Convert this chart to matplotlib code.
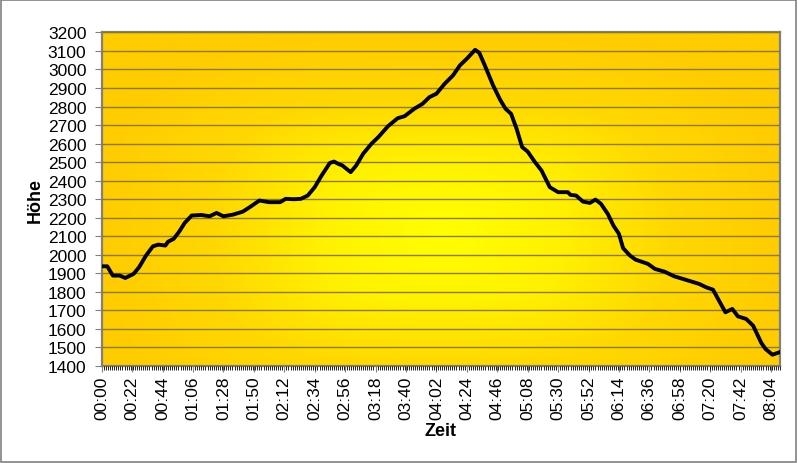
import numpy as np
import matplotlib
matplotlib.use("Agg")
import matplotlib.pyplot as plt
from matplotlib.colors import LinearSegmentedColormap
from matplotlib.patches import Rectangle

plt.rcParams['font.family'] = ['Liberation Sans', 'DejaVu Sans']

# time in minutes since start, height in m
minutes = [0, 4, 8, 13, 17, 23, 27, 32, 37, 41, 46, 48, 52, 56, 60, 65, 72, 78, 83, 88,
           95, 102, 107, 114, 121, 129, 133, 139, 144, 149, 154, 159, 165, 168, 171, 174,
           180, 184, 189, 195, 200, 207, 214, 219, 226, 232, 237, 242, 248, 254, 259, 264,
           270, 273, 277, 283, 288, 292, 296, 300, 304, 308, 313, 318, 324, 330, 337, 339,
           343, 348, 353, 357, 361, 366, 370, 374, 377, 382, 386, 395, 400, 407, 414, 422,
           432, 437, 442, 447, 451, 456, 460, 466, 471, 477, 480, 485, 490]
hoehe = [1938, 1938, 1888, 1888, 1875, 1897, 1933, 1996, 2046, 2055, 2050, 2071, 2086, 2125,
         2172, 2212, 2215, 2208, 2226, 2208, 2217, 2233, 2257, 2293, 2284, 2284, 2302, 2300,
         2302, 2320, 2365, 2428, 2496, 2503, 2491, 2482, 2446, 2482, 2545, 2599, 2635, 2694,
         2737, 2748, 2788, 2815, 2851, 2869, 2923, 2968, 3022, 3058, 3106, 3090, 3022, 2914,
         2838, 2788, 2761, 2680, 2581, 2557, 2503, 2455, 2365, 2338, 2338, 2323, 2320, 2287,
         2280, 2298, 2275, 2220, 2158, 2113, 2036, 1996, 1974, 1951, 1924, 1909, 1884, 1866,
         1843, 1825, 1812, 1744, 1690, 1708, 1668, 1654, 1618, 1524, 1492, 1461, 1474]

tick_minutes = list(range(0, 485, 22))
tick_labels = ["%02d:%02d" % (m // 60, m % 60) for m in tick_minutes]

fig = plt.figure(figsize=(7.98, 4.64), dpi=100)
ax = fig.add_axes([0.1275, 0.209, 0.85, 0.719])

xmin, xmax = 0, 490
ymin, ymax = 1400, 3200

# radial-ish yellow/orange gradient in the plot area
gx, gy = np.meshgrid(np.linspace(0, 1, 400), np.linspace(0, 1, 300))
d = ((np.abs(gx - 0.5) / 0.5) ** 3 + (np.abs(gy - 0.4) / 0.6) ** 3) ** (1 / 3)
d = np.clip(d, 0, 1)
cmap = LinearSegmentedColormap.from_list("yo", ["#ffff00", "#fff200", "#ffd800", "#ffcc00"])
ax.imshow(d, cmap=cmap, extent=[xmin, xmax, ymin, ymax], origin="lower",
          aspect="auto", zorder=0, interpolation="bilinear")

ax.plot(minutes, hoehe, color="black", lw=2.8, zorder=3, solid_joinstyle="round")

ax.set_xlim(xmin, xmax)
ax.set_ylim(ymin, ymax)
ax.set_yticks(range(1400, 3201, 100))
ax.yaxis.grid(True, color="#8a7a1a", lw=1.0, zorder=1)
ax.set_axisbelow(False)
ax.set_xticks(tick_minutes)
ax.set_xticklabels(tick_labels, rotation=90)
ax.set_xticks(np.arange(0, 491, 1.5), minor=True)

ax.tick_params(axis="both", labelsize=12.5, colors="#808080", labelcolor="black")
ax.tick_params(axis="x", which="major", length=4, pad=3)
ax.tick_params(axis="x", which="minor", length=3, width=0.6)
ax.tick_params(axis="y", length=5, pad=6)

for s in ax.spines.values():
    s.set_color("#808080")
    s.set_linewidth(1.6)

ax.set_xlabel("Zeit", fontsize=13, fontweight="bold", labelpad=2)
ax.set_ylabel("Höhe", fontsize=13, fontweight="bold", labelpad=3)

fig.patches.append(Rectangle((0.001, 0.002), 0.997, 0.996, transform=fig.transFigure,
                             fill=False, edgecolor="#808080", lw=1.2))

fig.savefig("out.png", dpi=100)
